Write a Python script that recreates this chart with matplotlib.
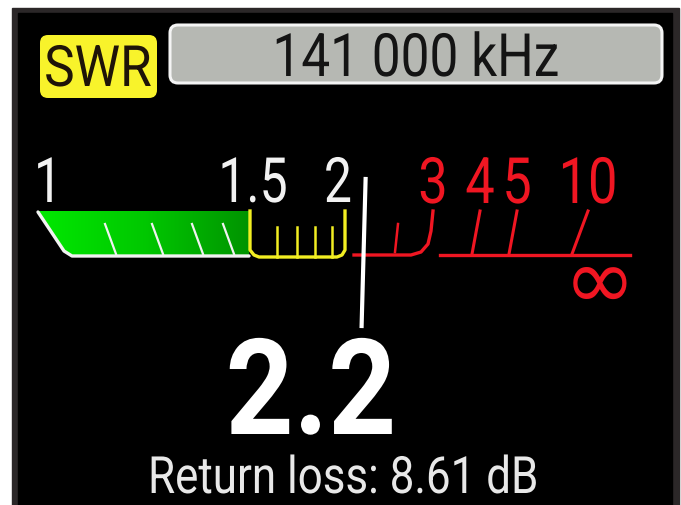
import matplotlib.pyplot as plt
import numpy as np
from matplotlib.colors import LinearSegmentedColormap
from matplotlib.patches import FancyBboxPatch, Polygon, Rectangle
from matplotlib.patheffects import AbstractPathEffect
from matplotlib.transforms import Affine2D

# readings shown on the display
mode_label = "SWR"
freq_text = "141 000 kHz"
swr_value = 2.2
return_loss_db = 8.61

# meter scale
green_labels = ["1", "1.5"]
green_values = [1.0, 1.5]
white_label = ["2"]
white_value = [2.0]
red_labels = ["3", "4", "5", "10"]
red_values = [3, 4, 5, 10]
green_minor = [1.1, 1.2, 1.3, 1.4]
yellow_minor = [1.6, 1.7, 1.8, 1.9]
red_minor = [2.5]

# scale knots: swr -> pixel x of the meter (non linear dial)
knot_swr = [1.0, 1.1, 1.2, 1.3, 1.4, 1.5, 1.6, 1.7, 1.8, 1.9, 2.0, 2.5, 3, 4, 5, 10]
knot_px = [48, 105, 152, 192, 223, 249, 277, 297, 315, 332, 345, 394, 433, 480, 517, 588]


def scale(v):
    return np.interp(v, knot_swr, knot_px)


class Squeeze(AbstractPathEffect):
    """narrow the glyphs horizontally around x0 (the display font is condensed)"""

    def __init__(self, sx, x0):
        super().__init__()
        self.sx = sx
        self.x0 = x0

    def draw_path(self, renderer, gc, tpath, affine, rgbFace=None):
        aff = affine + Affine2D().translate(-self.x0, 0).scale(self.sx, 1).translate(self.x0, 0)
        renderer.draw_path(gc, tpath, aff, rgbFace)


FONT = ['Roboto', 'DejaVu Sans']
RED = '#f01622'
YEL = '#f2ee22'
WHT = '#f2f2f2'

fig = plt.figure(figsize=(6.81, 5.06), dpi=100, facecolor='white')
ax = fig.add_axes([0, 0, 1, 1])
ax.set_xlim(0, 681)
ax.set_ylim(506, 0)
ax.axis('off')


def label(x, y, s, sx=0.85, **kw):
    t = ax.text(x, y, s, ha='center', va='baseline', zorder=3, **kw)
    x0 = ax.transData.transform((x, y))[0]
    t.set_path_effects([Squeeze(sx, x0)])
    return t


# screen frame
ax.add_patch(Rectangle((12, 9), 667, 500, color='#2b2728', zorder=0))
ax.add_patch(Rectangle((18, 14), 654, 495, color='black', zorder=1))

# header boxes
ax.add_patch(FancyBboxPatch((40, 36), 117, 63, boxstyle='round,pad=0,rounding_size=8',
                            fc='#f8f32b', ec='none', zorder=2))
label(98, 87, mode_label, sx=0.9, color='#1e1408', fontsize=41, family=FONT)
ax.add_patch(FancyBboxPatch((170, 26), 492, 58, boxstyle='round,pad=0,rounding_size=8',
                            fc='#b6b8b3', ec='#f4f4f4', lw=2.2, zorder=2))
label(416, 77, freq_text, sx=0.86, color='#141414', fontsize=43, family=FONT)

# green zone with gradient
g_poly = Polygon([(38, 212), (249, 212), (249, 258), (74, 258), (66, 254), (38, 212)],
                 closed=True, fc='none', ec='none')
ax.add_patch(g_poly)
grad = np.linspace(0, 1, 200).reshape(1, -1)
gcmap = LinearSegmentedColormap.from_list('g', ['#00e800', '#00c800', '#009400'])
im = ax.imshow(grad, extent=(38, 249, 258, 212), cmap=gcmap, aspect='auto', zorder=2)
im.set_clip_path(g_poly)
ax.plot([38, 64, 72, 249], [213, 252, 257, 257], color=WHT, lw=2.4,
        solid_capstyle='round', solid_joinstyle='round', zorder=3)
for v in green_minor:
    x = scale(v)
    ax.plot([x, x + 11], [225, 255], color=WHT, lw=1.6, zorder=3)

# yellow zone
ya, yb = scale(1.5) + 1, scale(2.0)
ax.plot([ya, ya, ya + 4, ya + 9, yb - 8, yb - 3, yb, yb],
        [212, 251, 256, 258, 258, 256, 251, 212], color=YEL, lw=2.4,
        solid_joinstyle='round', zorder=3)
for v in yellow_minor:
    x = scale(v)
    ax.plot([x, x], [228, 258], color=YEL, lw=1.8, zorder=3)

# red zone
r3 = scale(3)
ax.plot([354, r3 - 22, r3 - 12, r3 - 5, r3 - 2, r3],
        [256, 256, 253, 245, 232, 212], color=RED, lw=2.4,
        solid_joinstyle='round', zorder=3)
for v in red_minor:
    x = scale(v)
    ax.plot([x + 4, x + 1], [225, 253], color=RED, lw=1.8, zorder=3)
ax.plot([440, 630], [256, 256], color=RED, lw=2.4, zorder=3)
for v in red_values[1:]:
    x = scale(v)
    slant = 16 if v == 10 else 8
    ax.plot([x, x - slant], [212, 255], color=RED, lw=2.2, zorder=3)
ax.text(600, 285, '\u221e', color=RED, fontsize=62, ha='center', va='center',
        family=['DejaVu Sans'], zorder=3)

# scale labels
for lab, v in zip(green_labels + white_label, green_values + white_value):
    label(scale(v) + (4 if v == 1.5 else 0) - (7 if v == 2.0 else 0), 203, lab,
          sx=0.8, color=WHT, fontsize=45, family=FONT)
for lab, v in zip(red_labels, red_values):
    label(scale(v), 204, lab, sx=0.82, color=RED, fontsize=46, family=FONT)

# needle
nx = scale(swr_value)
ax.plot([nx + 1, nx - 3], [180, 327], color='white', lw=3, zorder=4)

# readout
label(311, 435, f"{swr_value:.1f}", sx=0.89, color='white', fontsize=96,
      fontweight='bold', family=FONT)
label(343, 494, f"Return loss: {return_loss_db:.2f} dB", sx=0.855, color='#e8e8e8',
      fontsize=37, family=FONT)

fig.savefig('out.png', dpi=100, facecolor='white')
